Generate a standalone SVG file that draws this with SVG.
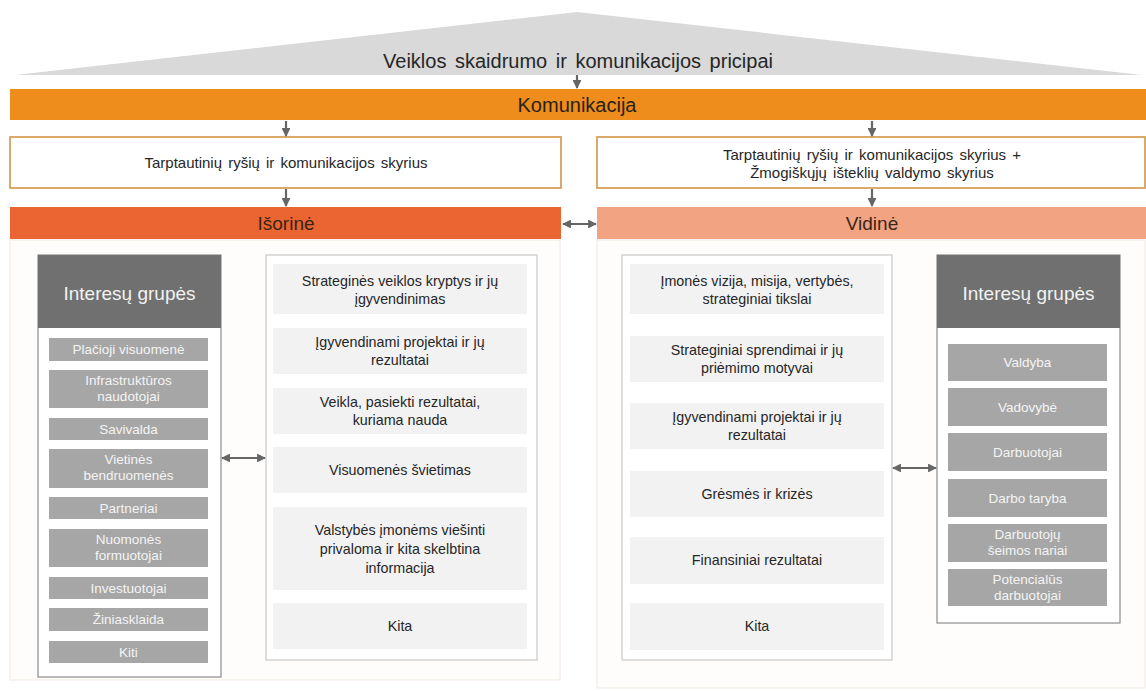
<svg xmlns="http://www.w3.org/2000/svg" width="1146" height="691" viewBox="0 0 1146 691">
<defs>
<marker id="ah" viewBox="0 0 10 10" refX="9" refY="5" markerWidth="4" markerHeight="4" orient="auto-start-reverse" markerUnits="strokeWidth">
<path d="M0,0 L10,5 L0,10 z" fill="#666"/>
</marker>
<style>
text{font-family:"Liberation Sans",Arial,sans-serif;text-anchor:middle}
.t19{font-size:20px;fill:#262626;word-spacing:3px}
.t14{font-size:14.3px;fill:#262626}
.t15{font-size:15px;fill:#262626;word-spacing:2px}
.it{font-size:13.5px;fill:#f4f4f4}
.ig{font-size:19px;fill:#f2f2f2}
.panel{fill:#fefdfb;stroke:#f3ece4;stroke-width:1.2}
.dep{fill:#fff;stroke:#d8a05a;stroke-width:1.8}
.cbox{fill:#fff;stroke:#c9c9c9;stroke-width:1.2}
.citem{fill:#f2f2f2}
.gbox{fill:#fff;stroke:#8c8c8c;stroke-width:1.2}
.ghead{fill:#707070}
.gitem{fill:#a6a6a6}
.conn{stroke:#666;stroke-width:2.2;fill:none}
</style>
</defs>

<g id="principles">
<polygon points="577,12 1142,75 15,75" fill="#d9d9d9"/>
<text class="t19" x="578" y="68">Veiklos skaidrumo ir komunikacijos pricipai</text>
</g>

<g id="komunikacija">
<rect x="10" y="89" width="1136" height="31" fill="#ee8d1b"/>
<text x="577" y="112" style="font-size:20px;fill:#2a2118">Komunikacija</text>
</g>

<g id="dept-left">
<rect class="dep" x="10" y="137" width="551" height="51"/>
<text class="t15" x="286" y="168">Tarptautinių ryšių ir komunikacijos skyrius</text>
</g>

<g id="dept-right">
<rect class="dep" x="597" y="137" width="548" height="51"/>
<text class="t15" x="872" y="160">Tarptautinių ryšių ir komunikacijos skyrius +</text>
<text class="t15" x="872" y="178">Žmogiškųjų išteklių valdymo skyrius</text>
</g>

<g id="isorine">
<rect x="10" y="207" width="551" height="32" fill="#ea6531"/>
<text x="286" y="230" style="font-size:19px;fill:#3a2418">Išorinė</text>
</g>

<g id="vidine">
<rect x="597" y="207" width="549" height="32" fill="#f2a382"/>
<text x="872" y="230" style="font-size:19px;fill:#3a2418">Vidinė</text>
</g>

<g id="panel-left">
<rect class="panel" x="10" y="240" width="550" height="440"/>
</g>
<g id="panel-right">
<rect class="panel" x="597" y="240" width="548" height="448"/>
</g>

<g id="groups-left">
<rect class="gbox" x="38" y="255" width="183" height="422"/>
<rect class="ghead" x="38" y="255" width="183" height="73"/>
<text class="ig" x="129.5" y="300">Interesų grupės</text>
<rect class="gitem" x="49" y="338" width="159" height="23"/>
<text class="it" x="128.5" y="354">Plačioji visuomenė</text>
<rect class="gitem" x="49" y="370" width="159" height="38"/>
<text class="it" x="128.5" y="385">Infrastruktūros</text>
<text class="it" x="128.5" y="401">naudotojai</text>
<rect class="gitem" x="49" y="418" width="159" height="22"/>
<text class="it" x="128.5" y="433.5">Savivalda</text>
<rect class="gitem" x="49" y="449" width="159" height="39"/>
<text class="it" x="128.5" y="464">Vietinės</text>
<text class="it" x="128.5" y="480">bendruomenės</text>
<rect class="gitem" x="49" y="497" width="159" height="22"/>
<text class="it" x="128.5" y="512.5">Partneriai</text>
<rect class="gitem" x="49" y="529" width="159" height="38"/>
<text class="it" x="128.5" y="544">Nuomonės</text>
<text class="it" x="128.5" y="560">formuotojai</text>
<rect class="gitem" x="49" y="577" width="159" height="22"/>
<text class="it" x="128.5" y="592.5">Investuotojai</text>
<rect class="gitem" x="49" y="608" width="159" height="23"/>
<text class="it" x="128.5" y="624">Žiniasklaida</text>
<rect class="gitem" x="49" y="641" width="159" height="22"/>
<text class="it" x="128.5" y="656.5">Kiti</text>
</g>

<g id="topics-left">
<rect class="cbox" x="266" y="255" width="271" height="405"/>
<rect class="citem" x="273" y="264" width="254" height="50"/>
<text class="t14" x="400" y="286">Strateginės veiklos kryptys  ir jų</text>
<text class="t14" x="400" y="304">įgyvendinimas</text>
<rect class="citem" x="273" y="328" width="254" height="46"/>
<text class="t14" x="400" y="347">Įgyvendinami  projektai ir jų</text>
<text class="t14" x="400" y="365">rezultatai</text>
<rect class="citem" x="273" y="388" width="254" height="46"/>
<text class="t14" x="400" y="407">Veikla, pasiekti rezultatai,</text>
<text class="t14" x="400" y="425">kuriama nauda</text>
<rect class="citem" x="273" y="447" width="254" height="46"/>
<text class="t14" x="400" y="475">Visuomenės švietimas</text>
<rect class="citem" x="273" y="507" width="254" height="83"/>
<text class="t14" x="400" y="535">Valstybės įmonėms viešinti</text>
<text class="t14" x="400" y="554">privaloma ir kita skelbtina</text>
<text class="t14" x="400" y="573">informacija</text>
<rect class="citem" x="273" y="603" width="254" height="46"/>
<text class="t14" x="400" y="631">Kita</text>
</g>

<g id="topics-right">
<rect class="cbox" x="622" y="255" width="270" height="405"/>
<rect class="citem" x="630" y="264" width="254" height="50"/>
<text class="t14" x="757" y="286">Įmonės  vizija, misija, vertybės,</text>
<text class="t14" x="757" y="304">strateginiai tikslai</text>
<rect class="citem" x="630" y="336" width="254" height="46"/>
<text class="t14" x="757" y="355">Strateginiai sprendimai ir jų</text>
<text class="t14" x="757" y="373">priėmimo motyvai</text>
<rect class="citem" x="630" y="403" width="254" height="46"/>
<text class="t14" x="757" y="422">Įgyvendinami  projektai ir jų</text>
<text class="t14" x="757" y="440">rezultatai</text>
<rect class="citem" x="630" y="471" width="254" height="46"/>
<text class="t14" x="757" y="499">Grėsmės ir krizės</text>
<rect class="citem" x="630" y="537" width="254" height="47"/>
<text class="t14" x="757" y="565">Finansiniai rezultatai</text>
<rect class="citem" x="630" y="603" width="254" height="47"/>
<text class="t14" x="757" y="631">Kita</text>
</g>

<g id="groups-right">
<rect class="gbox" x="937" y="255" width="183" height="368"/>
<rect class="ghead" x="937" y="255" width="183" height="73"/>
<text class="ig" x="1028.5" y="300">Interesų grupės</text>
<rect class="gitem" x="948" y="344" width="159" height="37"/>
<text class="it" x="1027.5" y="367">Valdyba</text>
<rect class="gitem" x="948" y="388" width="159" height="38"/>
<text class="it" x="1027.5" y="411.5">Vadovybė</text>
<rect class="gitem" x="948" y="433" width="159" height="38"/>
<text class="it" x="1027.5" y="456.5">Darbuotojai</text>
<rect class="gitem" x="948" y="479" width="159" height="38"/>
<text class="it" x="1027.5" y="502.5">Darbo taryba</text>
<rect class="gitem" x="948" y="524" width="159" height="38"/>
<text class="it" x="1027.5" y="539">Darbuotojų</text>
<text class="it" x="1027.5" y="555">šeimos nariai</text>
<rect class="gitem" x="948" y="569" width="159" height="37"/>
<text class="it" x="1027.5" y="583.5">Potencialūs</text>
<text class="it" x="1027.5" y="599.5">darbuotojai</text>
</g>

<g id="connectors">
<line class="conn" x1="577" y1="75" x2="577" y2="88" marker-end="url(#ah)"/>
<line class="conn" x1="286" y1="121" x2="286" y2="136" marker-end="url(#ah)"/>
<line class="conn" x1="872" y1="121" x2="872" y2="136" marker-end="url(#ah)"/>
<line class="conn" x1="286" y1="189" x2="286" y2="206" marker-end="url(#ah)"/>
<line class="conn" x1="872" y1="189" x2="872" y2="206" marker-end="url(#ah)"/>
<line class="conn" x1="563" y1="224" x2="596" y2="224" marker-start="url(#ah)" marker-end="url(#ah)"/>
<line class="conn" x1="222" y1="458" x2="265" y2="458" marker-start="url(#ah)" marker-end="url(#ah)"/>
<line class="conn" x1="893" y1="468" x2="936" y2="468" marker-start="url(#ah)" marker-end="url(#ah)"/>
</g>
</svg>
